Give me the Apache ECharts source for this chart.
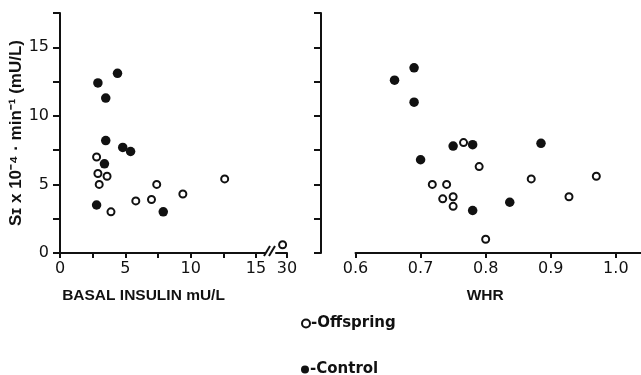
<!DOCTYPE html>
<html><head><meta charset="utf-8">
<script src="https://cdn.jsdelivr.net/npm/echarts@6/dist/echarts.min.js"></script>
<style>html,body{margin:0;padding:0;background:#fff}#c{width:641px;height:375px}</style>
</head><body><div id="c"></div>
<script>
// ---- data ----
const siTicks = [0, 2.5, 5, 7.5, 10, 12.5, 15, 17.5];
const siLabels = [0, 5, 10, 15];
const basalTicks = [0, 2.5, 5, 7.5, 10, 12.5, 15];
const basalLabels = [0, 5, 10, 15];
const basalBrokenTicks = [30];
const whrTicks = [0.6, 0.7, 0.8, 0.9, 1.0];

const offspringBasal   = [2.8, 2.9, 3.0, 3.6, 3.9, 5.8, 7.0, 7.4, 9.4, 12.6];
const offspringBasalSi = [7.0, 5.8, 5.0, 5.6, 3.0, 3.8, 3.9, 5.0, 4.3, 5.4];
const offspringBasalHigh   = [29.6];
const offspringBasalHighSi = [0.6];
const controlBasal   = [2.9, 4.4, 3.5, 3.5, 4.8, 5.4, 3.4, 2.8, 7.9];
const controlBasalSi = [12.4, 13.1, 11.3, 8.2, 7.7, 7.4, 6.5, 3.5, 3.0];

const offspringWhr   = [0.766, 0.79, 0.718, 0.74, 0.734, 0.75, 0.75, 0.80, 0.87, 0.928, 0.97];
const offspringWhrSi = [8.05, 6.3, 5.0, 5.0, 3.95, 4.1, 3.4, 1.0, 5.4, 4.1, 5.6];
const controlWhr   = [0.66, 0.69, 0.69, 0.70, 0.75, 0.78, 0.885, 0.78, 0.837];
const controlWhrSi = [12.6, 13.5, 11.0, 6.8, 7.8, 7.9, 8.0, 3.1, 3.7];

const zip = (a, b) => a.map((v, i) => [v, b[i]]);
const INK = '#111';
const tickFont = { color: INK, fontSize: 16, fontFamily: 'DejaVu Sans' };

const offStyle = { color: '#fff', borderColor: INK, borderWidth: 2, opacity: 1 };
const ctlStyle = { color: INK, borderColor: INK, borderWidth: 0, opacity: 1 };

function yAx(gridIndex, extra) {
  return Object.assign({
    type: 'value', gridIndex, min: 0, max: 17.5, interval: 2.5,
    axisLine: { show: true, lineStyle: { color: INK, width: 2 } },
    axisTick: { show: true, length: 7, lineStyle: { color: INK, width: 2 }, customValues: siTicks },
    axisLabel: { show: false },
    splitLine: { show: false }
  }, extra);
}

const legendText = { color: INK, fontSize: 15, fontWeight: 'bold', fontFamily: 'DejaVu Sans', padding: [0, 0, 0, -4] };

const chart = echarts.init(document.getElementById('c'));
chart.setOption({
  animation: false,
  backgroundColor: '#fff',
  grid: [
    { left: 60, top: 13, width: 205, height: 240 },
    { left: 276, top: 13, width: 11, height: 240 },
    { left: 355.5, top: 13, width: 286, height: 240 }
  ],
  xAxis: [
    { type: 'value', gridIndex: 0, min: 0, max: 205 / 13.07,
      name: 'BASAL INSULIN mU/L', nameLocation: 'middle', nameGap: 35,
      nameTextStyle: { color: INK, fontSize: 15.5, fontWeight: 'bold', fontFamily: 'Liberation Sans',
        padding: [0, 38, 0, 0] },
      axisLine: { show: true, lineStyle: { color: INK, width: 2 } },
      axisTick: { show: true, length: 5, lineStyle: { color: INK, width: 2 }, customValues: basalTicks },
      axisLabel: Object.assign({ margin: 8, customValues: basalLabels }, tickFont),
      splitLine: { show: false } },
    { type: 'value', gridIndex: 1, min: 29, max: 30,
      axisLine: { show: true, lineStyle: { color: INK, width: 2 } },
      axisTick: { show: true, length: 5, lineStyle: { color: INK, width: 2 }, customValues: basalBrokenTicks },
      axisLabel: Object.assign({ margin: 8, customValues: basalBrokenTicks }, tickFont),
      splitLine: { show: false } },
    { type: 'value', gridIndex: 2, min: 0.6, max: 0.6 + 286 / 652,
      name: 'WHR', nameLocation: 'middle', nameGap: 35,
      nameTextStyle: { color: INK, fontSize: 15.5, fontWeight: 'bold', fontFamily: 'Liberation Sans',
        padding: [0, 26, 0, 0] },
      axisLine: { show: true, lineStyle: { color: INK, width: 2 } },
      axisTick: { show: true, length: 5, lineStyle: { color: INK, width: 2 }, customValues: whrTicks },
      axisLabel: Object.assign({ margin: 8, customValues: whrTicks, formatter: v => v.toFixed(1) }, tickFont),
      splitLine: { show: false } }
  ],
  yAxis: [
    yAx(0, {
      name: 'S\u026A x 10\u207B\u2074 \u00B7 min\u207B\u00B9 (mU/L)', nameLocation: 'middle', nameGap: 35,
      nameTextStyle: { color: INK, fontSize: 17, fontWeight: 'bold', fontFamily: 'Liberation Sans' },
      axisLabel: Object.assign({ show: true, margin: 11, customValues: siLabels }, tickFont)
    }),
    yAx(1, { show: false }),
    yAx(2, { offset: 34.5 })
  ],
  legend: [
    { left: 296, top: 311, itemWidth: 8, itemHeight: 8, icon: 'circle',
      data: ['Offspring'], formatter: n => '-' + n, textStyle: legendText },
    { left: 296, top: 357, itemWidth: 8, itemHeight: 8, icon: 'circle',
      data: ['Control'], formatter: n => '-' + n, textStyle: legendText }
  ],
  series: [
    { name: 'Offspring', type: 'scatter', xAxisIndex: 0, yAxisIndex: 0, symbolSize: 7, itemStyle: offStyle,
      data: zip(offspringBasal, offspringBasalSi) },
    { name: 'Offspring', type: 'scatter', xAxisIndex: 1, yAxisIndex: 1, symbolSize: 7, itemStyle: offStyle,
      data: zip(offspringBasalHigh, offspringBasalHighSi) },
    { name: 'Offspring', type: 'scatter', xAxisIndex: 2, yAxisIndex: 2, symbolSize: 7, itemStyle: offStyle,
      data: zip(offspringWhr, offspringWhrSi) },
    { name: 'Control', type: 'scatter', xAxisIndex: 0, yAxisIndex: 0, symbolSize: 9.5, itemStyle: ctlStyle,
      data: zip(controlBasal, controlBasalSi) },
    { name: 'Control', type: 'scatter', xAxisIndex: 2, yAxisIndex: 2, symbolSize: 9.5, itemStyle: ctlStyle,
      data: zip(controlWhr, controlWhrSi) }
  ],
  graphic: [
    { type: 'line', shape: { x1: 264, y1: 256, x2: 270, y2: 246 }, style: { stroke: INK, lineWidth: 2 } },
    { type: 'line', shape: { x1: 269, y1: 256, x2: 275, y2: 246 }, style: { stroke: INK, lineWidth: 2 } }
  ]
});
</script>
</body></html>
